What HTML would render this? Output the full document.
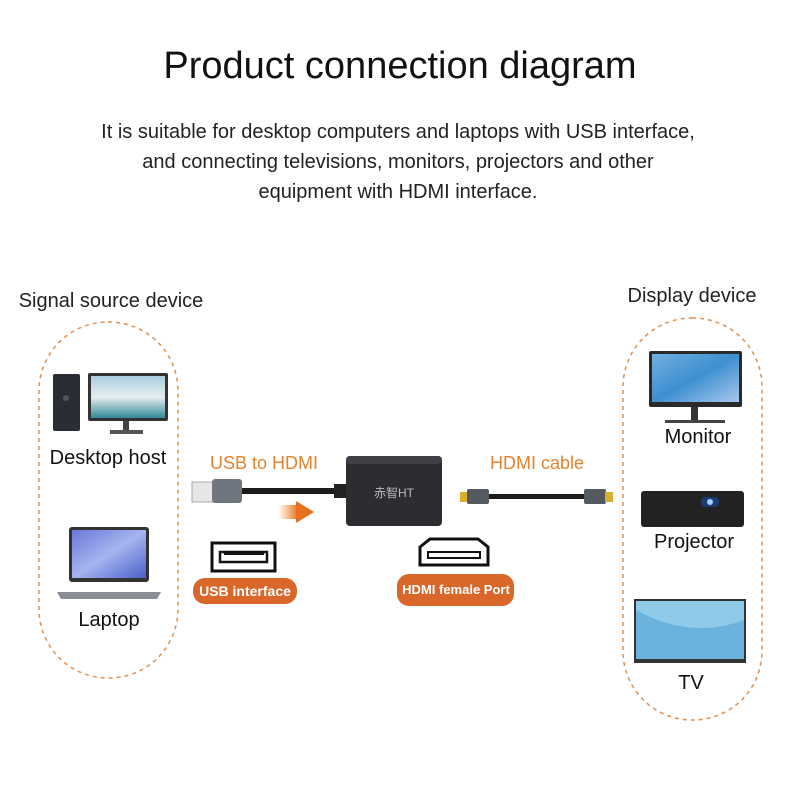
<!DOCTYPE html>
<html><head><meta charset="utf-8"><style>
html,body{margin:0;padding:0;background:#fff}
svg{display:block}
text{font-family:"Liberation Sans","Noto Sans CJK SC",sans-serif}
</style></head><body>
<svg width="800" height="800" viewBox="0 0 800 800" xmlns="http://www.w3.org/2000/svg">
<defs>
<linearGradient id="scr" x1="0" y1="0" x2="1" y2="1"><stop offset="0" stop-color="#6fb0e0"/><stop offset="0.5" stop-color="#3f8fd0"/><stop offset="1" stop-color="#a6c8ec"/></linearGradient>
<linearGradient id="lake" x1="0" y1="0" x2="0" y2="1"><stop offset="0" stop-color="#a9cce0"/><stop offset="0.5" stop-color="#e8eef0"/><stop offset="1" stop-color="#2f8a98"/></linearGradient>
<linearGradient id="lap" x1="0" y1="0" x2="1" y2="1"><stop offset="0" stop-color="#6a78d8"/><stop offset="0.5" stop-color="#a6b4f0"/><stop offset="1" stop-color="#4a60c8"/></linearGradient>
<linearGradient id="arr" x1="0" y1="0" x2="1" y2="0"><stop offset="0" stop-color="#f08a30" stop-opacity="0"/><stop offset="1" stop-color="#e8701a"/></linearGradient>
</defs>
<text x="400" y="78" font-size="38" text-anchor="middle" fill="#111">Product connection diagram</text>
<text x="398" y="138" font-size="20" text-anchor="middle" fill="#222">It is suitable for desktop computers and laptops with USB interface,</text>
<text x="398" y="168" font-size="20" text-anchor="middle" fill="#222">and connecting televisions, monitors, projectors and other</text>
<text x="398" y="198" font-size="20" text-anchor="middle" fill="#222">equipment with HDMI interface.</text>

<text x="111" y="307" font-size="20" text-anchor="middle" fill="#222">Signal source device</text>
<text x="692" y="302" font-size="20" text-anchor="middle" fill="#222">Display device</text>

<rect x="39" y="322" width="139" height="356" rx="69" fill="none" stroke="#e09050" stroke-width="1.5" stroke-dasharray="4,4"/>
<rect x="623" y="318" width="139" height="402" rx="69" fill="none" stroke="#e09050" stroke-width="1.5" stroke-dasharray="4,4"/>

<rect x="53" y="374" width="27" height="57" rx="2" fill="#2a2d33"/>
<circle cx="66" cy="398" r="3" fill="#555"/>
<rect x="88" y="373" width="80" height="48" rx="2" fill="#333"/>
<rect x="91" y="376" width="74" height="42" fill="url(#lake)"/>
<rect x="123" y="421" width="6" height="10" fill="#444"/>
<rect x="110" y="430" width="33" height="4" fill="#555"/>
<text x="108" y="464" font-size="20" text-anchor="middle" fill="#111">Desktop host</text>
<rect x="69" y="527" width="80" height="55" rx="3" fill="#333"/>
<rect x="72" y="530" width="74" height="48" fill="url(#lap)"/>
<path d="M57 592 L161 592 L157 599 L61 599 Z" fill="#8a8d93"/>
<text x="109" y="626" font-size="20" text-anchor="middle" fill="#111">Laptop</text>

<rect x="649" y="351" width="93" height="56" rx="2" fill="#2a2a2a"/>
<rect x="652" y="354" width="87" height="48" fill="url(#scr)"/>
<rect x="691" y="407" width="7" height="15" fill="#333"/>
<rect x="665" y="420" width="60" height="3" fill="#444"/>
<text x="698" y="443" font-size="20" text-anchor="middle" fill="#111">Monitor</text>
<rect x="641" y="491" width="103" height="36" rx="3" fill="#222"/>
<rect x="701" y="497" width="18" height="10" rx="4" fill="#1a3a70"/>
<circle cx="710" cy="502" r="3" fill="#9fd0ff"/>
<text x="694" y="548" font-size="20" text-anchor="middle" fill="#111">Projector</text>
<rect x="634" y="599" width="112" height="64" fill="#333"/>
<rect x="636" y="601" width="108" height="58" fill="#8fcbe8"/>
<path d="M636 610 Q690 640 744 620 L744 659 L636 659 Z" fill="#5aa8d8" opacity="0.7"/>
<text x="691" y="689" font-size="20" text-anchor="middle" fill="#111">TV</text>

<text x="264" y="469" font-size="18" text-anchor="middle" fill="#e8822e">USB to HDMI</text>
<rect x="192" y="482" width="22" height="20" fill="#e6e6e6" stroke="#aaa"/>
<rect x="212" y="479" width="30" height="24" rx="3" fill="#707680"/>
<rect x="242" y="488" width="100" height="6" fill="#1c1c1c"/>
<rect x="334" y="484" width="12" height="14" fill="#222"/>
<rect x="278" y="505" width="20" height="14" fill="url(#arr)"/>
<path d="M296 501 L314 512 L296 523 Z" fill="#e8701a"/>
<rect x="346" y="456" width="96" height="70" rx="4" fill="#2b2d31"/>
<rect x="346" y="456" width="96" height="8" rx="4" fill="#3e4046"/>
<text x="394" y="497" font-size="12" text-anchor="middle" fill="#bbb">赤智HT</text>
<text x="537" y="469" font-size="18" text-anchor="middle" fill="#e8822e">HDMI cable</text>
<rect x="460" y="492" width="8" height="10" fill="#d8b030"/>
<rect x="467" y="489" width="22" height="15" rx="2" fill="#555a60"/>
<rect x="489" y="494" width="96" height="5" fill="#1c1c1c"/>
<rect x="584" y="489" width="22" height="15" rx="2" fill="#555a60"/>
<rect x="605" y="492" width="8" height="10" fill="#d8b030"/>

<rect x="212" y="543" width="63" height="28" fill="#fff" stroke="#111" stroke-width="3"/>
<rect x="220" y="552" width="47" height="10" fill="#fff" stroke="#111" stroke-width="2.5"/>
<rect x="224" y="552" width="40" height="3" fill="#111"/>
<rect x="193" y="578" width="104" height="26" rx="12" fill="#d9672a"/>
<text x="245" y="596" font-size="14" font-weight="bold" text-anchor="middle" fill="#fff">USB interface</text>
<path d="M420 547 L430 539 L478 539 L488 547 L488 565 L420 565 Z" fill="#fff" stroke="#111" stroke-width="3"/>
<rect x="428" y="552" width="52" height="6" fill="#fff" stroke="#111" stroke-width="2"/>
<rect x="397" y="574" width="117" height="32" rx="12" fill="#d9672a"/>
<text x="456" y="594" font-size="13" font-weight="bold" text-anchor="middle" fill="#fff">HDMI female Port</text>
</svg>
</body></html>
